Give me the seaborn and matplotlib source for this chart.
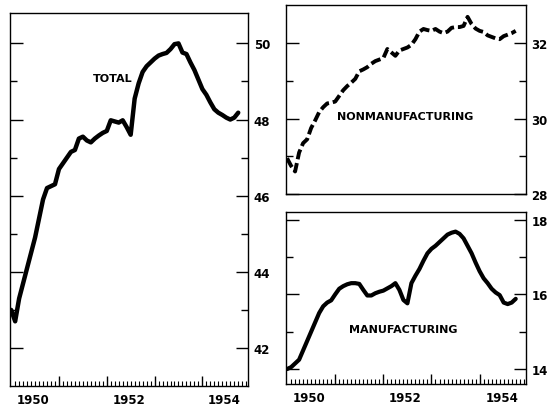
import pandas as pd
import matplotlib.pyplot as plt
import seaborn as sns

# monthly values, Jan 1950 .. Oct 1954 (millions of persons)
total = [43.0, 42.7, 43.3, 43.7, 44.1, 44.5, 44.9, 45.4, 45.9, 46.2,
         46.25, 46.3, 46.7, 46.85, 47.0, 47.15, 47.2, 47.5, 47.55, 47.45,
         47.4, 47.5, 47.58, 47.65, 47.7, 47.98, 47.95, 47.92, 47.98, 47.8,
         47.6, 48.55, 48.95, 49.25, 49.4, 49.5, 49.6, 49.68, 49.72, 49.75,
         49.85, 49.98, 50.0, 49.76, 49.72, 49.5, 49.3, 49.05, 48.8, 48.65,
         48.45, 48.27, 48.18, 48.12, 48.05, 48.0, 48.05, 48.18]

nonmanufacturing = [28.95, 28.75, 28.6, 29.1, 29.35, 29.45, 29.75, 29.95, 30.17, 30.3,
                    30.4, 30.42, 30.45, 30.6, 30.75, 30.86, 30.95, 31.05, 31.25, 31.3,
                    31.36, 31.45, 31.52, 31.56, 31.6, 31.84, 31.75, 31.66, 31.8, 31.84,
                    31.88, 31.95, 32.1, 32.3, 32.37, 32.34, 32.32, 32.37, 32.3, 32.26,
                    32.3, 32.4, 32.42, 32.42, 32.45, 32.69, 32.5, 32.38, 32.32, 32.29,
                    32.2, 32.16, 32.12, 32.1, 32.18, 32.22, 32.26, 32.32]

manufacturing = [14.0, 14.05, 14.15, 14.25, 14.5, 14.75, 15.0, 15.25, 15.5, 15.68,
                 15.78, 15.84, 16.0, 16.15, 16.22, 16.27, 16.3, 16.3, 16.28, 16.12,
                 15.97, 15.97, 16.03, 16.07, 16.1, 16.16, 16.22, 16.3, 16.12, 15.85,
                 15.76, 16.3, 16.5, 16.68, 16.9, 17.1, 17.22, 17.3, 17.4, 17.5,
                 17.6, 17.65, 17.68, 17.62, 17.5, 17.3, 17.1, 16.85, 16.62, 16.43,
                 16.3, 16.15, 16.05, 15.98, 15.78, 15.74, 15.78, 15.88]

year_labels = ["1950", "1952", "1954"]

months = list(range(len(total)))
df = pd.DataFrame({"month": months, "total": total,
                   "nonmanufacturing": nonmanufacturing,
                   "manufacturing": manufacturing})

sns.set_style("white")
plt.rcParams["font.family"] = ["DejaVu Sans"]
plt.rcParams["text.color"] = "black"
plt.rcParams["xtick.color"] = "black"
plt.rcParams["ytick.color"] = "black"

fig = plt.figure(figsize=(5.54, 4.10), dpi=100)
ax_t = fig.add_axes([0.018, 0.056, 0.430, 0.910])
ax_n = fig.add_axes([0.516, 0.524, 0.433, 0.461])
ax_m = fig.add_axes([0.516, 0.061, 0.433, 0.419])


def style_axis(ax, lo, hi, ymin, ymax, xlabels):
    ax.set_xlim(-0.3, 59.5)
    ax.set_ylim(ymin, ymax)
    for s in ax.spines.values():
        s.set_color("black")
        s.set_linewidth(1.0)
    ax.yaxis.tick_right()
    ax.set_yticks(range(lo, hi + 1, 2))
    ax.set_yticks(range(lo + 1, hi, 2), minor=True)
    ax.tick_params(axis="y", which="major", direction="in", length=9, width=1,
                   left=True, right=True, labelright=True, labelleft=False,
                   labelsize=8.5, pad=4, labelcolor="black")
    ax.tick_params(axis="y", which="minor", direction="in", length=5, width=1,
                   left=True, right=True)
    for lab in ax.get_yticklabels():
        lab.set_fontweight("bold")
    if xlabels:
        ax.set_xticks([12, 24, 36, 48])
        ax.set_xticks(range(1, 60), minor=True)
        ax.tick_params(axis="x", which="major", direction="in", length=7, width=1,
                       bottom=True, labelbottom=False)
        ax.tick_params(axis="x", which="minor", direction="in", length=3.5, width=0.8,
                       bottom=True)
        for pos, lab in zip([5.5, 29.5, 53.5], year_labels):
            ax.annotate(lab, xy=(pos, 0), xycoords=("data", "axes fraction"),
                        xytext=(0, -5), textcoords="offset points",
                        ha="center", va="top", fontsize=8.5, fontweight="bold")
    else:
        ax.set_xticks([])
    ax.set_xlabel("")
    ax.set_ylabel("")


sns.lineplot(data=df, x="month", y="total", ax=ax_t, color="black", linewidth=3.2)
style_axis(ax_t, 42, 50, 41.0, 50.8, True)
ax_t.text(25.5, 49.08, "TOTAL", ha="center", va="center", fontsize=8, fontweight="bold")

sns.lineplot(data=df, x="month", y="nonmanufacturing", ax=ax_n, color="black",
             linewidth=2.8, linestyle=(0, (2.6, 1.0)))
style_axis(ax_n, 28, 32, 28.0, 33.0, False)
ax_n.text(29.4, 30.07, "NONMANUFACTURING", ha="center", va="center",
          fontsize=8, fontweight="bold")

sns.lineplot(data=df, x="month", y="manufacturing", ax=ax_m, color="black", linewidth=3.0)
style_axis(ax_m, 14, 18, 13.6, 18.2, True)
ax_m.text(28.9, 15.08, "MANUFACTURING", ha="center", va="center",
          fontsize=8, fontweight="bold")

fig.savefig("out.png", dpi=100)
